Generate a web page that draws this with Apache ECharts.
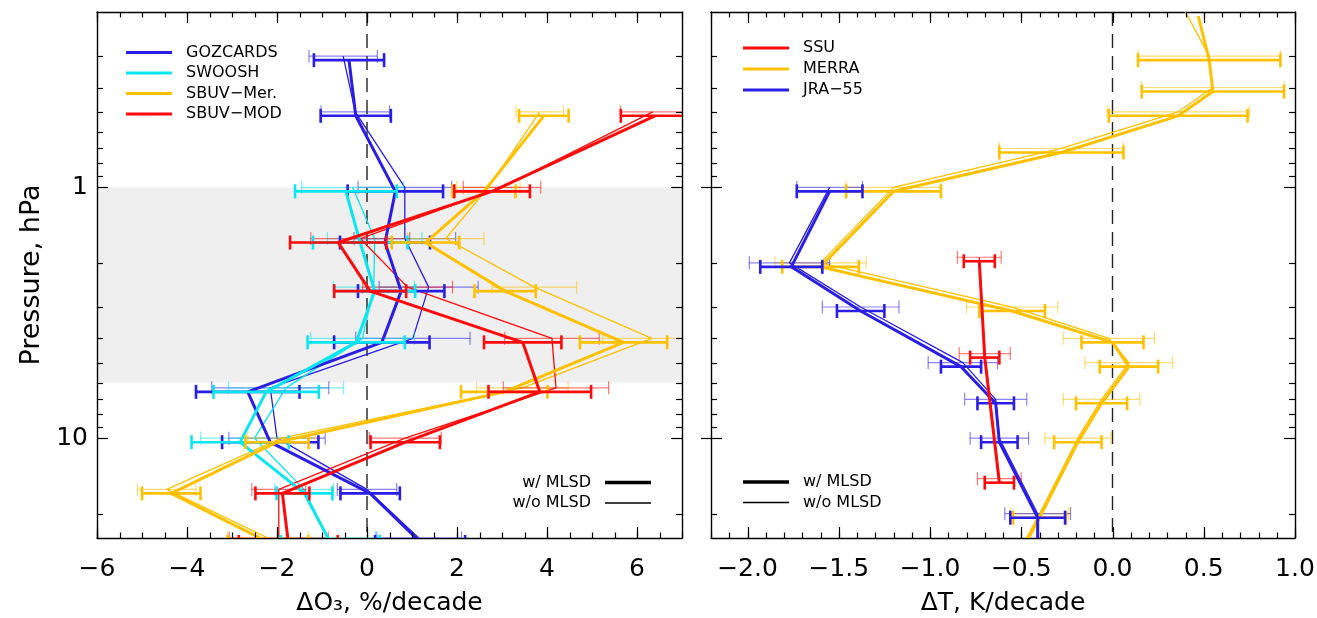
<!DOCTYPE html>
<html>
<head>
<meta charset="utf-8">
<script src="https://cdn.jsdelivr.net/npm/echarts@6/dist/echarts.min.js"></script>
<style>
  html, body { margin: 0; padding: 0; background: #fff; }
  #chart { width: 1317px; height: 618px; }
</style>
</head>
<body>
<div id="chart"></div>
<script>
// ---------- Ozone trend profiles (%/decade) ----------
const o3Levels = [0.3, 0.5, 1, 1.6, 2.5, 4, 6.3, 10, 16, 25];   // hPa

const gozWith      = [-0.40, -0.25, 0.63, 0.40, 0.76, 0.33, -2.65, -2.15, 0.07, 1.18];
const gozWithErr   = [0.78, 0.78, 1.06, 1.00, 0.96, 1.06, 1.15, 1.07, 0.66, 1.00];
const gozWithout    = [-0.53, -0.26, 0.84, 0.84, 1.37, 1.02, -2.15, -2.00, 0.00, 1.15];
const gozWithoutErr = [0.76, 0.76, 1.04, 1.13, 1.10, 1.27, 1.30, 1.07, 0.66, 0.95];

const swooshWith      = [null, null, -0.47, -0.15, 0.17, -0.24, -2.24, -2.82, -1.39, -0.82];
const swooshWithErr   = [null, null, 1.13, 1.05, 0.90, 1.08, 1.17, 1.08, 0.62, 1.10];
const swooshWithout    = [null, null, -0.32, 0.17, 0.15, -0.10, -1.80, -2.50, -1.40, -0.87];
const swooshWithoutErr = [null, null, 1.13, 1.05, 0.90, 1.15, 1.28, 1.20, 0.65, 1.10];

const sbuvMerWith      = [null, 3.93, 2.60, 1.30, 3.07, 5.70, 3.05, -2.00, -4.35, -2.20];
const sbuvMerWithErr   = [null, 0.55, 0.70, 0.75, 0.68, 0.97, 0.96, 0.70, 0.65, 0.90];
const sbuvMerWithout    = [null, 3.84, 2.70, 1.75, 3.72, 6.33, 3.45, -1.90, -4.45, -2.20];
const sbuvMerWithoutErr = [null, 0.53, 0.70, 0.85, 0.94, 1.10, 1.02, 0.75, 0.65, 0.90];

const sbuvModWith      = [null, 6.40, 2.78, -0.64, 0.07, 3.46, 3.84, 0.85, -1.88, -1.75];
const sbuvModWithErr   = [null, 0.76, 0.84, 1.07, 0.80, 0.86, 1.14, 0.77, 0.60, 1.10];
const sbuvModWithout    = [null, 6.35, 3.00, -0.15, 0.90, 4.11, 4.20, 0.85, -1.96, -1.96];
const sbuvModWithoutErr = [null, 0.72, 0.86, 1.10, 1.00, 1.05, 1.17, 0.80, 0.60, 1.10];

// ---------- Temperature trend profiles (K/decade) ----------
const ssuLevels = [1.9, 4.6, 14.5];
const ssuWith      = [-0.73, -0.70, -0.62];
const ssuWithErr   = [0.085, 0.08, 0.08];
const ssuWithout    = [-0.73, -0.70, -0.62];
const ssuWithoutErr = [0.12, 0.14, 0.12];

const merraLevels = [0.2, 0.3, 0.4, 0.5, 0.7, 1, 2, 3, 4, 5, 7, 10, 20, 30];
const merraWith      = [0.47, 0.53, 0.55, 0.36, -0.28, -1.20, -1.60, -0.55, 0.00, 0.09, -0.06, -0.19, -0.40, -0.53];
const merraWithErr   = [null, 0.39, 0.39, 0.38, 0.34, 0.26, 0.21, 0.18, 0.17, 0.16, 0.14, 0.13, 0.145, 0.15];
const merraWithout    = [0.40, 0.53, 0.55, 0.36, -0.28, -1.20, -1.60, -0.55, -0.02, 0.09, -0.06, -0.19, -0.40, -0.53];
const merraWithoutErr = [null, 0.39, 0.39, 0.39, 0.34, 0.26, 0.25, 0.25, 0.25, 0.24, 0.21, 0.18, 0.16, 0.16];

const jraLevels = [1, 2, 3, 5, 7, 10, 20, 30];
const jraWith      = [-1.55, -1.76, -1.38, -0.83, -0.64, -0.62, -0.41, -0.41];
const jraWithErr   = [0.18, 0.17, 0.13, 0.11, 0.10, 0.10, 0.15, 0.15];
const jraWithout    = [-1.55, -1.77, -1.38, -0.82, -0.64, -0.62, -0.41, -0.41];
const jraWithoutErr = [0.18, 0.22, 0.21, 0.19, 0.17, 0.16, 0.18, 0.18];

// ---------- Axes, ticks, shading ----------
const o3Range = [-6, 7];
const tRange = [-2.2, 1.0];
const pRange = [0.2, 25];
const shadedLevels = [1, 6];          // hPa band shaded in the ozone panel
const o3MajorTicks = [-6, -4, -2, 0, 2, 4, 6];
const tMajorTicks = [-2.0, -1.5, -1.0, -0.5, 0.0, 0.5, 1.0];
const pMajorTicks = [1, 10];
const pMinorTicks = [0.3, 0.4, 0.5, 0.6, 0.7, 0.8, 0.9, 2, 3, 4, 5, 6, 7, 8, 9, 20];
const o3MinorTicks = [];
for (let k = -12; k <= 14; k++) o3MinorTicks.push(k / 2);
const tMinorTicks = [];
for (let k = -22; k <= 10; k++) tMinorTicks.push(k / 10);

const o3Legend = ['GOZCARDS', 'SWOOSH', 'SBUV\u2212Mer.', 'SBUV\u2212MOD'];
const tLegend = ['SSU', 'MERRA', 'JRA\u221255'];

const BLUE = '#2a1de6', CYAN = '#0ae6f0', GOLD = '#ffc000', RED = '#ff0a0a';
const FONT = "'DejaVu Sans', sans-serif";
const MINUS = '\u2212';

function profile(name, color, grid, levels, vals, errs, withMLSD) {
  const dy = withMLSD ? 4 : 0;
  const lw = withMLSD ? 3 : 1.3;
  const barW = withMLSD ? 2.6 : 1.2;
  const capHalf = withMLSD ? 7 : 6.5;
  const barOpacity = withMLSD ? 1 : 0.55;
  const first = vals.findIndex(v => v != null);
  return {
    type: 'custom', name, xAxisIndex: grid * 2, yAxisIndex: grid * 2,
    clip: true, z: withMLSD ? 5 : 4, silent: true,
    data: levels.map((p, i) => [vals[i] == null ? 0 : vals[i], p]),
    renderItem(params, api) {
      const i = params.dataIndex;
      if (vals[i] == null) return;
      const kids = [];
      if (i === first) {
        const pts = [];
        levels.forEach((p, j) => {
          if (vals[j] != null) {
            const c = api.coord([vals[j], p]);
            pts.push([c[0], c[1] + dy]);
          }
        });
        kids.push({ type: 'polyline', shape: { points: pts },
          style: { stroke: color, lineWidth: lw, fill: 'none', lineJoin: 'round' } });
      }
      if (errs[i] != null) {
        const a = api.coord([vals[i] - errs[i], levels[i]]);
        const b = api.coord([vals[i] + errs[i], levels[i]]);
        const y = a[1] + dy;
        const st = { stroke: color, lineWidth: barW, opacity: barOpacity };
        kids.push({ type: 'line', shape: { x1: a[0], y1: y, x2: b[0], y2: y }, style: st });
        kids.push({ type: 'line', shape: { x1: a[0], y1: y - capHalf, x2: a[0], y2: y + capHalf }, style: st });
        kids.push({ type: 'line', shape: { x1: b[0], y1: y - capHalf, x2: b[0], y2: y + capHalf }, style: st });
      }
      return { type: 'group', children: kids };
    }
  };
}

function tickSeries(grid, xMajor, xMinor, yOut) {
  const items = []
    .concat(xMajor.map(v => ['x', v, 11]))
    .concat(xMinor.map(v => ['x', v, 5.5]))
    .concat(pMajorTicks.map(v => ['y', v, 11]))
    .concat(pMinorTicks.map(v => ['y', v, 6]));
  const x0 = grid === 0 ? o3Range[0] : tRange[0];
  return {
    type: 'custom', xAxisIndex: grid * 2, yAxisIndex: grid * 2, z: 6, silent: true,
    data: items.map(() => [x0, 1]),
    renderItem(params, api) {
      const t = items[params.dataIndex];
      const cs = params.coordSys;
      const st = { stroke: '#000', lineWidth: 1.2 };
      if (t[0] === 'x') {
        const px = Math.round(api.coord([t[1], 1])[0]) + 0.5;
        const yb = cs.y + cs.height;
        return { type: 'group', children: [
          { type: 'line', shape: { x1: px, y1: cs.y, x2: px, y2: cs.y + t[2] }, style: st },
          { type: 'line', shape: { x1: px, y1: yb, x2: px, y2: yb - t[2] }, style: st }
        ] };
      }
      const py = Math.round(api.coord([x0, t[1]])[1]) + 0.5;
      const xr = cs.x + cs.width;
      const outward = (yOut && t[2] > 10) ? 10 : 0;
      return { type: 'group', children: [
        { type: 'line', shape: { x1: cs.x - outward, y1: py, x2: cs.x + t[2], y2: py }, style: st },
        { type: 'line', shape: { x1: xr, y1: py, x2: xr - t[2], y2: py }, style: st }
      ] };
    }
  };
}

function zeroLine(grid) {
  return {
    type: 'custom', xAxisIndex: grid * 2, yAxisIndex: grid * 2, z: 3, silent: true,
    data: [[0, 1]],
    renderItem(params, api) {
      const a = api.coord([0, pRange[0]]), b = api.coord([0, pRange[1]]);
      return { type: 'line', shape: { x1: a[0], y1: a[1], x2: b[0], y2: b[1] },
        style: { stroke: '#222', lineWidth: 1.4, lineDash: [14, 8] } };
    }
  };
}

const bandSeries = {
  type: 'custom', xAxisIndex: 0, yAxisIndex: 0, z: -1, silent: true,
  data: [[0, 1]],
  renderItem(params, api) {
    const a = api.coord([o3Range[0], shadedLevels[0]]);
    const b = api.coord([o3Range[1], shadedLevels[1]]);
    return { type: 'rect', shape: { x: a[0], y: a[1], width: b[0] - a[0], height: b[1] - a[1] },
      style: { fill: '#efefef' } };
  }
};

function xLabelO3(v) {
  const r = Math.round(v);
  if (Math.abs(v - r) > 1e-6 || r % 2 !== 0 || r > 6) return '';
  return r < 0 ? MINUS + (-r) : String(r);
}
function xLabelT(v) {
  const k = Math.round(v * 2);
  if (Math.abs(v * 2 - k) > 1e-6) return '';
  const s = Math.abs(k / 2).toFixed(1);
  return k < 0 ? MINUS + s : s;
}

const axisLine = { show: true, onZero: false, lineStyle: { color: '#000', width: 1.4 } };
const labelStyle = { color: '#000', fontFamily: FONT, fontSize: 25 };

function xAxes(grid, range, interval, fmt, name) {
  return [
    { gridIndex: grid, type: 'value', position: 'bottom', min: range[0], max: range[1], interval,
      axisLine, axisTick: { show: false }, splitLine: { show: false },
      axisLabel: Object.assign({ formatter: fmt, margin: 19, showMinLabel: true, showMaxLabel: true }, labelStyle),
      name, nameLocation: 'middle', nameGap: 53,
      nameTextStyle: { color: '#000', fontFamily: FONT, fontSize: 25 } },
    { gridIndex: grid, type: 'value', position: 'top', min: range[0], max: range[1], interval,
      axisLine, axisTick: { show: false }, splitLine: { show: false }, axisLabel: { show: false } }
  ];
}
function yAxes(grid, withLabels) {
  const base = { gridIndex: grid, type: 'log', logBase: 10, min: pRange[0], max: pRange[1], inverse: true,
    axisLine, axisTick: { show: false }, splitLine: { show: false } };
  const left = Object.assign({}, base, { position: 'left',
    axisLabel: withLabels ? Object.assign({ margin: 9,
      formatter: v => (Math.abs(v - 1) < 1e-6 ? '1' : Math.abs(v - 10) < 1e-6 ? '10' : '') }, labelStyle)
      : { show: false } });
  if (withLabels) {
    left.name = 'Pressure, hPa';
    left.nameLocation = 'middle';
    left.nameGap = 52;
    left.nameTextStyle = { color: '#000', fontFamily: FONT, fontSize: 27 };
  }
  const right = Object.assign({}, base, { position: 'right', axisLabel: { show: false } });
  return [left, right];
}

function legendGraphics(names, colors, x, y0, step) {
  const out = [];
  names.forEach((n, i) => {
    const y = y0 + i * step;
    out.push({ type: 'line', shape: { x1: x, y1: y, x2: x + 46, y2: y }, style: { stroke: colors[i], lineWidth: 3 }, z: 20 });
    out.push({ type: 'text', x: x + 60, y: y, style: { text: n, fill: '#000', font: '16px ' + FONT, verticalAlign: 'middle' }, z: 20 });
  });
  return out;
}
function mlsdLegend(textRight, lineX, y0, textLeft) {
  const out = [];
  const labels = ['w/ MLSD', 'w/o MLSD'];
  labels.forEach((t, i) => {
    const y = y0 + i * 20.5;
    out.push({ type: 'line', shape: { x1: lineX, y1: y, x2: lineX + 46, y2: y }, style: { stroke: '#000', lineWidth: i === 0 ? 3.5 : 1.4 }, z: 20 });
    if (textLeft) {
      out.push({ type: 'text', x: textRight, y: y, style: { text: t, fill: '#000', font: '16px ' + FONT, align: 'right', verticalAlign: 'middle' }, z: 20 });
    } else {
      out.push({ type: 'text', x: lineX + 60, y: y, style: { text: t, fill: '#000', font: '16px ' + FONT, verticalAlign: 'middle' }, z: 20 });
    }
  });
  return out;
}

const series = [
  bandSeries, zeroLine(0), zeroLine(1),
  tickSeries(0, o3MajorTicks, o3MinorTicks, false),
  tickSeries(1, tMajorTicks, tMinorTicks, true),
  // ozone panel: without MLSD (thin), then with MLSD (thick)
  profile('GOZCARDS', BLUE, 0, o3Levels, gozWithout, gozWithoutErr, false),
  profile('SWOOSH', CYAN, 0, o3Levels, swooshWithout, swooshWithoutErr, false),
  profile('SBUV-Mer.', GOLD, 0, o3Levels, sbuvMerWithout, sbuvMerWithoutErr, false),
  profile('SBUV-MOD', RED, 0, o3Levels, sbuvModWithout, sbuvModWithoutErr, false),
  profile('GOZCARDS', BLUE, 0, o3Levels, gozWith, gozWithErr, true),
  profile('SWOOSH', CYAN, 0, o3Levels, swooshWith, swooshWithErr, true),
  profile('SBUV-Mer.', GOLD, 0, o3Levels, sbuvMerWith, sbuvMerWithErr, true),
  profile('SBUV-MOD', RED, 0, o3Levels, sbuvModWith, sbuvModWithErr, true),
  // temperature panel
  profile('MERRA', GOLD, 1, merraLevels, merraWithout, merraWithoutErr, false),
  profile('JRA-55', BLUE, 1, jraLevels, jraWithout, jraWithoutErr, false),
  profile('SSU', RED, 1, ssuLevels, ssuWithout, ssuWithoutErr, false),
  profile('MERRA', GOLD, 1, merraLevels, merraWith, merraWithErr, true),
  profile('JRA-55', BLUE, 1, jraLevels, jraWith, jraWithErr, true),
  profile('SSU', RED, 1, ssuLevels, ssuWith, ssuWithErr, true)
];

const chart = echarts.init(document.getElementById('chart'), null, { renderer: 'canvas' });
chart.setOption({
  animation: false,
  backgroundColor: '#fff',
  grid: [
    { left: 97, top: 12, width: 585, height: 526, containLabel: false, outerBoundsMode: 'none' },
    { left: 711, top: 12, width: 584, height: 526, containLabel: false, outerBoundsMode: 'none' }
  ],
  xAxis: [].concat(
    xAxes(0, o3Range, 0.5, xLabelO3, '\u0394O\u2083, %/decade'),
    xAxes(1, tRange, 0.1, xLabelT, '\u0394T, K/decade')
  ),
  yAxis: [].concat(yAxes(0, true), yAxes(1, false)),
  series,
  graphic: [].concat(
    legendGraphics(o3Legend, [BLUE, CYAN, GOLD, RED], 126, 52.5, 20.5),
    legendGraphics(tLegend, [RED, GOLD, BLUE], 743, 48, 21),
    mlsdLegend(591, 605, 482.5, true),
    mlsdLegend(0, 743, 482, false)
  )
});
</script>
</body>
</html>
